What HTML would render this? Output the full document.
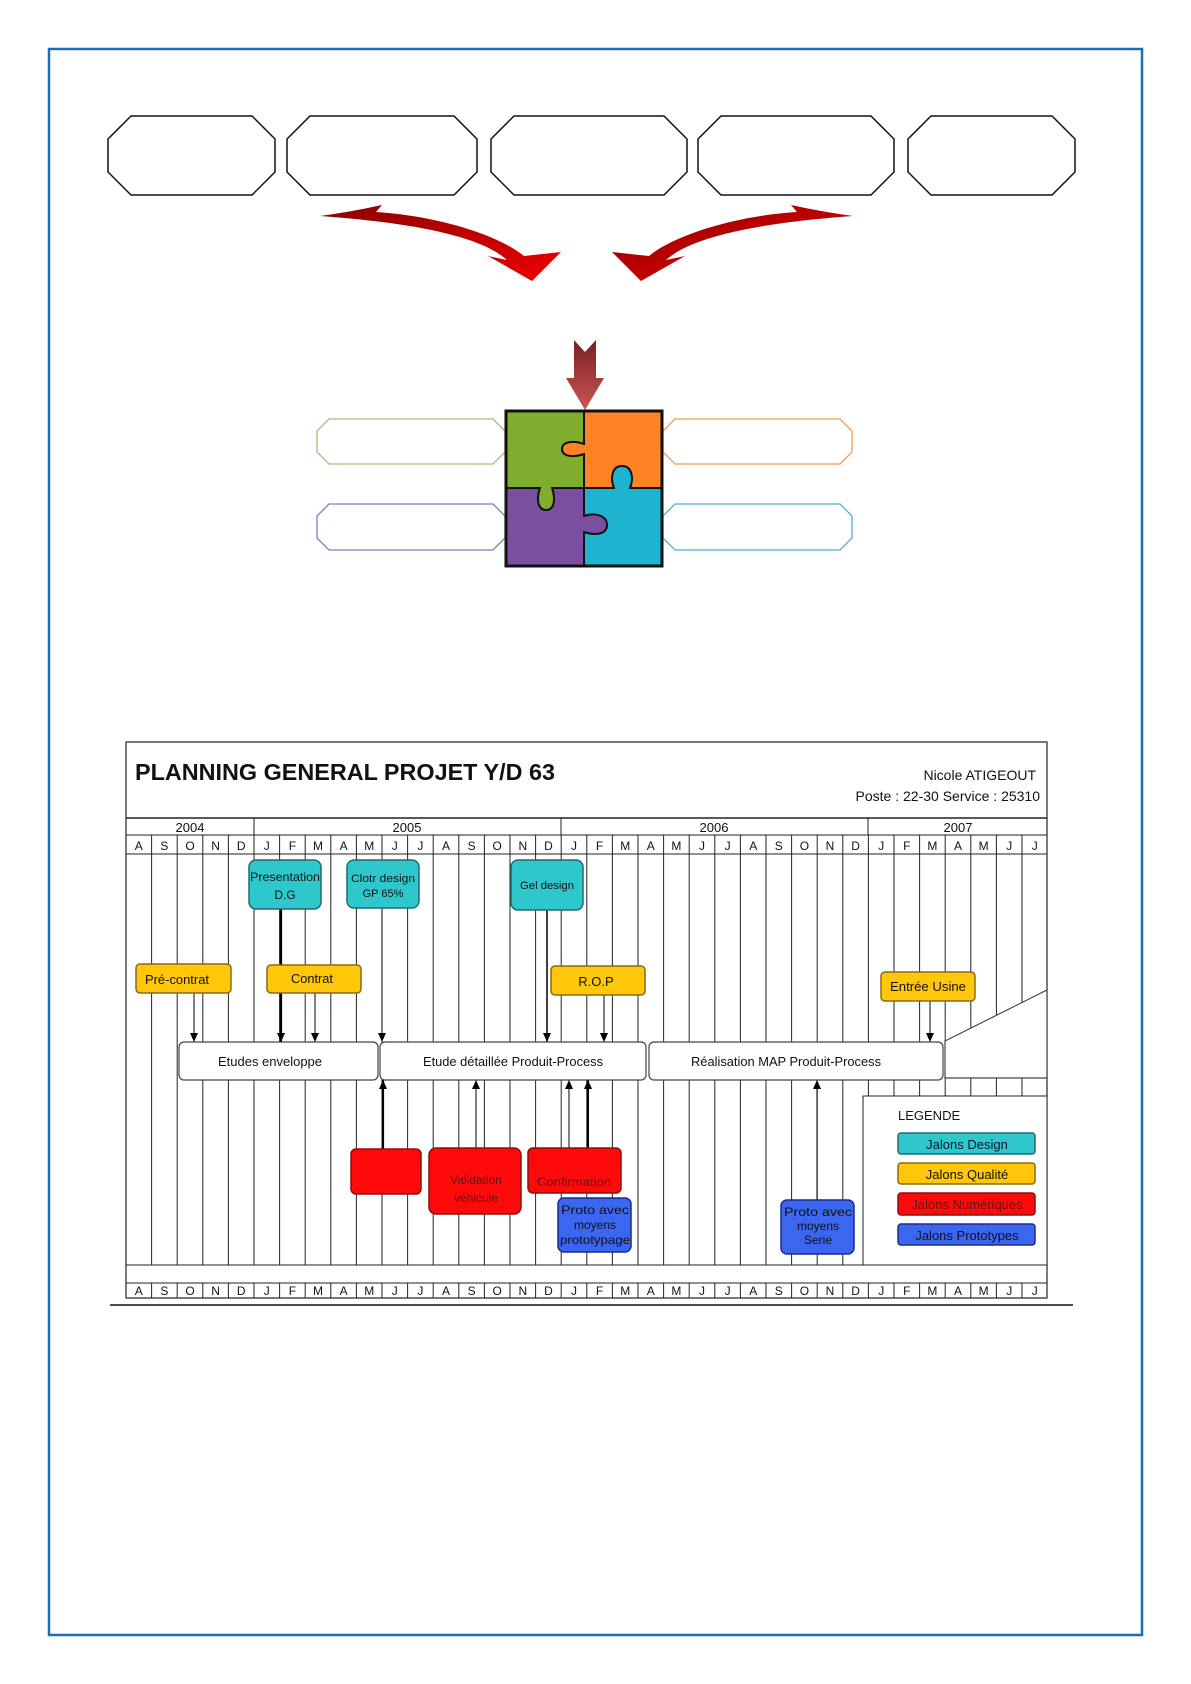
<!DOCTYPE html>
<html><head><meta charset="utf-8"><style>
html,body{margin:0;padding:0;background:#fff;}
svg{display:block;}
text{font-family:"Liberation Sans",sans-serif;}
</style></head><body>
<svg width="1191" height="1684" viewBox="0 0 1191 1684" xmlns="http://www.w3.org/2000/svg">
<defs>
<linearGradient id="ga" x1="0" y1="0" x2="1" y2="1"><stop offset="0" stop-color="#8a0000"/><stop offset="1" stop-color="#f00000"/></linearGradient>
<linearGradient id="gb" x1="1" y1="0" x2="0" y2="1"><stop offset="0" stop-color="#8a0000"/><stop offset="1" stop-color="#f00000"/></linearGradient>
<linearGradient id="gv" x1="0" y1="0" x2="0" y2="1"><stop offset="0" stop-color="#7a2020"/><stop offset="1" stop-color="#cc5555"/></linearGradient>
<marker id="ah" markerWidth="9" markerHeight="8" refX="9" refY="4" orient="auto" markerUnits="userSpaceOnUse"><path d="M0,0 L9,4 L0,8 Z" fill="#000"/></marker>
</defs>
<rect x="49" y="49" width="1093" height="1586" fill="none" stroke="#1a6fb5" stroke-width="2.5"/>

<g fill="#fff" stroke="#111" stroke-width="1.5">
<path d="M131,116 L252,116 L275,139 L275,172 L252,195 L131,195 L108,172 L108,139 Z"/>
<path d="M310,116 L454,116 L477,139 L477,172 L454,195 L310,195 L287,172 L287,139 Z"/>
<path d="M514,116 L664,116 L687,139 L687,172 L664,195 L514,195 L491,172 L491,139 Z"/>
<path d="M721,116 L871,116 L894,139 L894,172 L871,195 L721,195 L698,172 L698,139 Z"/>
<path d="M931,116 L1052,116 L1075,139 L1075,172 L1052,195 L931,195 L908,172 L908,139 Z"/>
</g>

<path d="M320,216 Q350,212 382,205 L376,212 C440,216 500,236 524,256 L561,252 L532,281 L488,256 L507,260 C485,240 430,224 320,216 Z" fill="url(#ga)"/>
<g transform="translate(1173,0) scale(-1,1)">
<path d="M320,216 Q350,212 382,205 L376,212 C440,216 500,236 524,256 L561,252 L532,281 L488,256 L507,260 C485,240 430,224 320,216 Z" fill="url(#gb)"/>
</g>

<path d="M574,340 L585,352 L596,340 L596,378 L604,378 L585,410 L566,378 L574,378 Z" fill="url(#gv)"/>

<g fill="#fff" stroke-width="1.3">
<path d="M329,419 L493,419 L505,431 L505,452 L493,464 L329,464 L317,452 L317,431 Z" stroke="#9dc37a"/>
<path d="M329,504 L493,504 L505,516 L505,538 L493,550 L329,550 L317,538 L317,516 Z" stroke="#9274b4"/>
<path d="M675,419 L840,419 L852,431 L852,452 L840,464 L675,464 L663,452 L663,431 Z" stroke="#f59a50"/>
<path d="M675,504 L840,504 L852,516 L852,538 L840,550 L675,550 L663,538 L663,516 Z" stroke="#4fb0cc"/>
</g>

<g stroke="#111" stroke-width="2">
<rect x="506" y="411" width="78" height="77" fill="#7fad2e" stroke="none"/>
<rect x="584" y="411" width="78" height="77" fill="#fd8325" stroke="none"/>
<rect x="506" y="488" width="78" height="78" fill="#7b4fa0" stroke="none"/>
<rect x="584" y="488" width="78" height="78" fill="#1eb3cf" stroke="none"/>
<path d="M584,411 L584,566" fill="none"/>
<path d="M506,488 L662,488" fill="none"/>
<path d="M584,516 C596,512 607,516 607,525 C607,534 596,536 584,532" fill="#7b4fa0"/>
<path d="M562,449 C562,442 572,440 584,444 L584,454 C572,458 562,456 562,449 Z" fill="#fd8325" stroke="none"/>
<path d="M540,488 C536,500 538,510 546,510 C554,510 556,500 552,488 Z" fill="#7fad2e" stroke="none"/>
<path d="M614,488 C610,478 612,466 622,466 C632,466 634,478 630,488 Z" fill="#1eb3cf" stroke="none"/>
<path d="M584,444 C572,440 562,442 562,449 C562,456 572,458 584,454" fill="none"/>
<path d="M540,488 C536,500 538,510 546,510 C554,510 556,500 552,488" fill="none"/>
<path d="M614,488 C610,478 612,466 622,466 C632,466 634,478 630,488" fill="none"/>
<line x1="584" y1="445" x2="584" y2="453" stroke="#fd8325" stroke-width="3"/>
<line x1="541" y1="488" x2="551" y2="488" stroke="#7fad2e" stroke-width="3"/>
<line x1="615" y1="488" x2="629" y2="488" stroke="#1eb3cf" stroke-width="3"/>
<line x1="584" y1="517" x2="584" y2="531" stroke="#7b4fa0" stroke-width="3"/>
<rect x="506" y="411" width="156" height="155" fill="none" stroke-width="3"/>
</g>

<g id="gantt">
<rect x="126" y="742" width="921" height="556" fill="#fff" stroke="#222" stroke-width="1.2"/>
<line x1="126" y1="818" x2="1047" y2="818" stroke="#222" stroke-width="1.5"/>
<line x1="126" y1="835" x2="1047" y2="835" stroke="#222"/>
<line x1="126" y1="854" x2="1047" y2="854" stroke="#222"/>
<line x1="126" y1="1265" x2="1047" y2="1265" stroke="#222"/>
<line x1="126" y1="1283" x2="1047" y2="1283" stroke="#222"/>
<line x1="254" y1="818" x2="254" y2="835" stroke="#222"/>
<line x1="561" y1="818" x2="561" y2="835" stroke="#222"/>
<line x1="868" y1="818" x2="868" y2="835" stroke="#222"/>
<g font-size="13" text-anchor="middle" fill="#111">
<text x="190" y="832">2004</text><text x="407" y="832">2005</text><text x="714" y="832">2006</text><text x="958" y="832">2007</text>
</g>
<g stroke="#222" stroke-width="1">
<path d="M151.6,835V1265M177.2,835V1265M202.8,835V1265M228.4,835V1265M254,835V1265M279.6,835V1265M305.2,835V1265M330.8,835V1265M356.4,835V1265M382,835V1265M407.6,835V1265M433.2,835V1265M458.8,835V1265M484.4,835V1265M510,835V1265M535.6,835V1265M561.2,835V1265M586.8,835V1265M612.4,835V1265M638,835V1265M663.6,835V1265M689.2,835V1265M714.8,835V1265M740.4,835V1265M766,835V1265M791.6,835V1265M817.2,835V1265M842.8,835V1265M868.4,835V1265M894,835V1265M919.6,835V1265M945.2,835V1265M970.8,835V1265M996.4,835V1265M1022,835V1265"/>
<path d="M151.6,1283V1298M177.2,1283V1298M202.8,1283V1298M228.4,1283V1298M254,1283V1298M279.6,1283V1298M305.2,1283V1298M330.8,1283V1298M356.4,1283V1298M382,1283V1298M407.6,1283V1298M433.2,1283V1298M458.8,1283V1298M484.4,1283V1298M510,1283V1298M535.6,1283V1298M561.2,1283V1298M586.8,1283V1298M612.4,1283V1298M638,1283V1298M663.6,1283V1298M689.2,1283V1298M714.8,1283V1298M740.4,1283V1298M766,1283V1298M791.6,1283V1298M817.2,1283V1298M842.8,1283V1298M868.4,1283V1298M894,1283V1298M919.6,1283V1298M945.2,1283V1298M970.8,1283V1298M996.4,1283V1298M1022,1283V1298"/>
</g>
<g font-size="12" text-anchor="middle" fill="#111">
<text y="850"><tspan x="138.8">A</tspan><tspan x="164.4">S</tspan><tspan x="190">O</tspan><tspan x="215.6">N</tspan><tspan x="241.2">D</tspan><tspan x="266.8">J</tspan><tspan x="292.4">F</tspan><tspan x="318">M</tspan><tspan x="343.6">A</tspan><tspan x="369.2">M</tspan><tspan x="394.8">J</tspan><tspan x="420.4">J</tspan><tspan x="446">A</tspan><tspan x="471.6">S</tspan><tspan x="497.2">O</tspan><tspan x="522.8">N</tspan><tspan x="548.4">D</tspan><tspan x="574">J</tspan><tspan x="599.6">F</tspan><tspan x="625.2">M</tspan><tspan x="650.8">A</tspan><tspan x="676.4">M</tspan><tspan x="702">J</tspan><tspan x="727.6">J</tspan><tspan x="753.2">A</tspan><tspan x="778.8">S</tspan><tspan x="804.4">O</tspan><tspan x="830">N</tspan><tspan x="855.6">D</tspan><tspan x="881.2">J</tspan><tspan x="906.8">F</tspan><tspan x="932.4">M</tspan><tspan x="958">A</tspan><tspan x="983.6">M</tspan><tspan x="1009.2">J</tspan><tspan x="1034.8">J</tspan></text>
<text y="1295"><tspan x="138.8">A</tspan><tspan x="164.4">S</tspan><tspan x="190">O</tspan><tspan x="215.6">N</tspan><tspan x="241.2">D</tspan><tspan x="266.8">J</tspan><tspan x="292.4">F</tspan><tspan x="318">M</tspan><tspan x="343.6">A</tspan><tspan x="369.2">M</tspan><tspan x="394.8">J</tspan><tspan x="420.4">J</tspan><tspan x="446">A</tspan><tspan x="471.6">S</tspan><tspan x="497.2">O</tspan><tspan x="522.8">N</tspan><tspan x="548.4">D</tspan><tspan x="574">J</tspan><tspan x="599.6">F</tspan><tspan x="625.2">M</tspan><tspan x="650.8">A</tspan><tspan x="676.4">M</tspan><tspan x="702">J</tspan><tspan x="727.6">J</tspan><tspan x="753.2">A</tspan><tspan x="778.8">S</tspan><tspan x="804.4">O</tspan><tspan x="830">N</tspan><tspan x="855.6">D</tspan><tspan x="881.2">J</tspan><tspan x="906.8">F</tspan><tspan x="932.4">M</tspan><tspan x="958">A</tspan><tspan x="983.6">M</tspan><tspan x="1009.2">J</tspan><tspan x="1034.8">J</tspan></text>
</g>
<text x="135" y="780" font-size="23" font-weight="bold" textLength="420" lengthAdjust="spacingAndGlyphs" fill="#111">PLANNING GENERAL PROJET Y/D 63</text>
<text x="1036" y="780" font-size="14" text-anchor="end" fill="#111">Nicole ATIGEOUT</text>
<text x="1040" y="801" font-size="14" text-anchor="end" fill="#111">Poste : 22-30  Service : 25310</text>

<rect x="863" y="1096" width="184" height="169" fill="#fff" stroke="#222"/>

<g stroke="#000" fill="none">
<line x1="194" y1="993" x2="194" y2="1042" stroke-width="1" marker-end="url(#ah)"/>
<line x1="281" y1="909" x2="281" y2="1042" stroke-width="2.2" marker-end="url(#ah)"/>
<line x1="315" y1="993" x2="315" y2="1042" stroke-width="1" marker-end="url(#ah)"/>
<line x1="382" y1="908" x2="382" y2="1042" stroke-width="1" marker-end="url(#ah)"/>
<line x1="547" y1="910" x2="547" y2="1042" stroke-width="1.5" marker-end="url(#ah)"/>
<line x1="604" y1="995" x2="604" y2="1042" stroke-width="1" marker-end="url(#ah)"/>
<line x1="930" y1="1001" x2="930" y2="1042" stroke-width="1" marker-end="url(#ah)"/>
<line x1="383" y1="1149" x2="383" y2="1080" stroke-width="2.2" marker-end="url(#ah)"/>
<line x1="476" y1="1148" x2="476" y2="1080" stroke-width="1" marker-end="url(#ah)"/>
<line x1="569" y1="1148" x2="569" y2="1080" stroke-width="1" marker-end="url(#ah)"/>
<line x1="588" y1="1148" x2="588" y2="1080" stroke-width="2" marker-end="url(#ah)"/>
<line x1="817" y1="1200" x2="817" y2="1080" stroke-width="1" marker-end="url(#ah)"/>
</g>

<g fill="#fff" stroke="#444" stroke-width="1.2">
<rect x="179" y="1042" width="199" height="38" rx="5"/>
<rect x="380" y="1042" width="266" height="38" rx="5"/>
<rect x="649" y="1042" width="294" height="38" rx="5"/>
<path d="M945,1041 L1047,990 L1047,1078 L945,1078 Z"/>
</g>
<g font-size="13" text-anchor="middle" fill="#111">
<text x="270" y="1066" textLength="104" lengthAdjust="spacingAndGlyphs">Etudes enveloppe</text>
<text x="513" y="1066" textLength="180" lengthAdjust="spacingAndGlyphs">Etude détaillée Produit-Process</text>
<text x="786" y="1066" textLength="190" lengthAdjust="spacingAndGlyphs">Réalisation MAP Produit-Process</text>
</g>

<g fill="#2ec8cc" stroke="#1f6b70" stroke-width="1.5">
<rect x="249" y="860" width="72" height="49" rx="7"/>
<rect x="347" y="860" width="72" height="48" rx="7"/>
<rect x="511" y="860" width="72" height="50" rx="7"/>
</g>
<g font-size="12" text-anchor="middle" fill="#111">
<text x="285" y="881" textLength="70" lengthAdjust="spacingAndGlyphs">Presentation</text>
<text x="285" y="899">D.G</text>
<text x="383" y="882" font-size="11" textLength="64" lengthAdjust="spacingAndGlyphs">Clotr design</text>
<text x="383" y="897" font-size="11">GP 65%</text>
<text x="547" y="889" font-size="11" textLength="54" lengthAdjust="spacingAndGlyphs">Gel design</text>
</g>

<g fill="#ffc60a" stroke="#8a6a10" stroke-width="1.5">
<rect x="136" y="964" width="95" height="29" rx="4"/>
<rect x="267" y="965" width="94" height="28" rx="4"/>
<rect x="551" y="966" width="94" height="29" rx="4"/>
<rect x="881" y="972" width="94" height="29" rx="4"/>
</g>
<g font-size="13" text-anchor="middle" fill="#111">
<text x="177" y="984" textLength="64" lengthAdjust="spacingAndGlyphs">Pré-contrat</text>
<text x="312" y="983" textLength="42" lengthAdjust="spacingAndGlyphs">Contrat</text>
<text x="596" y="986">R.O.P</text>
<text x="928" y="991" textLength="76" lengthAdjust="spacingAndGlyphs">Entrée Usine</text>
</g>

<g fill="#ff0a0a" stroke="#8a1010" stroke-width="1.5">
<rect x="351" y="1149" width="70" height="45" rx="5"/>
<rect x="429" y="1148" width="92" height="66" rx="7"/>
<rect x="528" y="1148" width="93" height="45" rx="5"/>
</g>
<g font-size="12" text-anchor="middle" fill="#661010">
<text x="476" y="1184">Validation</text>
<text x="476" y="1202">véhicule</text>
<text x="574" y="1186" textLength="74" lengthAdjust="spacingAndGlyphs">Confirmation</text>
</g>

<g fill="#3a66f0" stroke="#1a2a90" stroke-width="1.5">
<rect x="558" y="1198" width="73" height="54" rx="6"/>
<rect x="781" y="1200" width="73" height="54" rx="6"/>
</g>
<g font-size="12" text-anchor="middle" fill="#111">
<text x="595" y="1214" textLength="68" lengthAdjust="spacingAndGlyphs">Proto avec</text>
<text x="595" y="1229">moyens</text>
<text x="595" y="1244" textLength="70" lengthAdjust="spacingAndGlyphs">prototypage</text>
<text x="818" y="1216" textLength="68" lengthAdjust="spacingAndGlyphs">Proto avec</text>
<text x="818" y="1230">moyens</text>
<text x="818" y="1244">Serie</text>
</g>

<text x="898" y="1120" font-size="13" fill="#111">LEGENDE</text>
<rect x="898" y="1133" width="137" height="21" rx="3" fill="#2ec8cc" stroke="#1f6b70" stroke-width="1.5"/>
<rect x="898" y="1163" width="137" height="21" rx="3" fill="#ffc60a" stroke="#8a6a10" stroke-width="1.5"/>
<rect x="898" y="1193" width="137" height="22" rx="3" fill="#ff0a0a" stroke="#8a1010" stroke-width="1.5"/>
<rect x="898" y="1224" width="137" height="21" rx="3" fill="#3a66f0" stroke="#1a2a90" stroke-width="1.5"/>
<g font-size="13" text-anchor="middle">
<text x="967" y="1149" fill="#113">Jalons Design</text>
<text x="967" y="1179" fill="#111">Jalons Qualité</text>
<text x="967" y="1209" fill="#661010">Jalons Numériques</text>
<text x="967" y="1240" fill="#111">Jalons Prototypes</text>
</g>
</g>
<line x1="110" y1="1305" x2="1073" y2="1305" stroke="#111" stroke-width="1.5"/>
</svg>
</body></html>
